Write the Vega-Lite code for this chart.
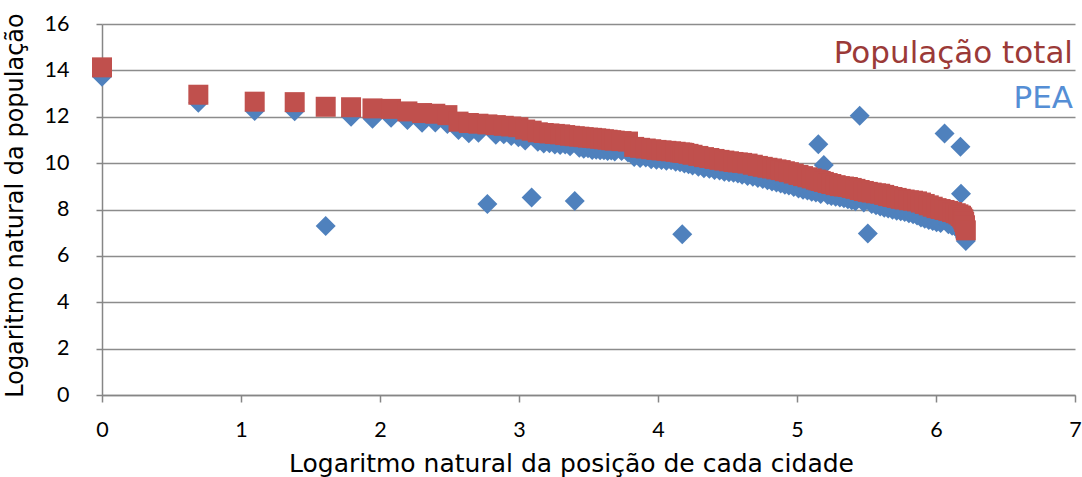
{
  "$schema": "https://vega.github.io/schema/vega-lite/v6.json",
  "width": 973,
  "height": 371,
  "autosize": {"type": "none"},
  "padding": {"left": 102, "top": 24, "right": 7, "bottom": 82},
  "background": "white",
  "config": {
    "view": {"stroke": null},
    "axis": {
      "domainColor": "#868686",
      "domainWidth": 1.5,
      "tickColor": "#868686",
      "tickWidth": 1.5,
      "gridColor": "#8c8c8c",
      "gridWidth": 1.3,
      "labelFont": "Lato",
      "labelFontSize": 21.5,
      "labelColor": "#000000",
      "titleFont": "DejaVu Sans",
      "titleFontSize": 24,
      "titleFontWeight": "normal",
      "titleColor": "#000000"
    }
  },
  "data": {
    "values": [
      {"ln_pos": 0, "ln_pop": 14.13, "ln_pea": 13.73},
      {"ln_pos": 0.6931, "ln_pop": 12.95, "ln_pea": 12.6},
      {"ln_pos": 1.0986, "ln_pop": 12.65, "ln_pea": 12.25},
      {"ln_pos": 1.3863, "ln_pop": 12.63, "ln_pea": 12.24},
      {"ln_pos": 1.6094, "ln_pop": 12.43, "ln_pea": 7.29},
      {"ln_pos": 1.7918, "ln_pop": 12.41, "ln_pea": 12.0},
      {"ln_pos": 1.9459, "ln_pop": 12.36, "ln_pea": 11.91},
      {"ln_pos": 2.0794, "ln_pop": 12.34, "ln_pea": 11.96},
      {"ln_pos": 2.1972, "ln_pop": 12.23, "ln_pea": 11.86},
      {"ln_pos": 2.3026, "ln_pop": 12.16, "ln_pea": 11.74},
      {"ln_pos": 2.3979, "ln_pop": 12.13, "ln_pea": 11.75},
      {"ln_pos": 2.4849, "ln_pop": 12.07, "ln_pea": 11.69},
      {"ln_pos": 2.5649, "ln_pop": 11.79, "ln_pea": 11.43},
      {"ln_pos": 2.6391, "ln_pop": 11.73, "ln_pea": 11.29},
      {"ln_pos": 2.7081, "ln_pop": 11.7, "ln_pea": 11.31},
      {"ln_pos": 2.7726, "ln_pop": 11.67, "ln_pea": 8.24},
      {"ln_pos": 2.8332, "ln_pop": 11.64, "ln_pea": 11.22},
      {"ln_pos": 2.8904, "ln_pop": 11.61, "ln_pea": 11.24},
      {"ln_pos": 2.9444, "ln_pop": 11.58, "ln_pea": 11.17},
      {"ln_pos": 2.9957, "ln_pop": 11.55, "ln_pea": 11.12},
      {"ln_pos": 3.0445, "ln_pop": 11.45, "ln_pea": 10.98},
      {"ln_pos": 3.091, "ln_pop": 11.4, "ln_pea": 8.52},
      {"ln_pos": 3.1355, "ln_pop": 11.33, "ln_pea": 10.92},
      {"ln_pos": 3.1781, "ln_pop": 11.3, "ln_pea": 10.85},
      {"ln_pos": 3.2189, "ln_pop": 11.28, "ln_pea": 10.86},
      {"ln_pos": 3.2581, "ln_pop": 11.26, "ln_pea": 10.8},
      {"ln_pos": 3.2958, "ln_pop": 11.24, "ln_pea": 10.78},
      {"ln_pos": 3.3322, "ln_pop": 11.21, "ln_pea": 10.8},
      {"ln_pos": 3.3673, "ln_pop": 11.18, "ln_pea": 10.73},
      {"ln_pos": 3.4012, "ln_pop": 11.16, "ln_pea": 8.37},
      {"ln_pos": 3.434, "ln_pop": 11.14, "ln_pea": 10.66},
      {"ln_pos": 3.4657, "ln_pop": 11.12, "ln_pea": 10.62},
      {"ln_pos": 3.4965, "ln_pop": 11.1, "ln_pea": 10.64},
      {"ln_pos": 3.5264, "ln_pop": 11.09, "ln_pea": 10.57},
      {"ln_pos": 3.5553, "ln_pop": 11.07, "ln_pea": 10.58},
      {"ln_pos": 3.5835, "ln_pop": 11.05, "ln_pea": 10.55},
      {"ln_pos": 3.6109, "ln_pop": 11.03, "ln_pea": 10.56},
      {"ln_pos": 3.6376, "ln_pop": 11.01, "ln_pea": 10.52},
      {"ln_pos": 3.6636, "ln_pop": 10.99, "ln_pea": 10.54},
      {"ln_pos": 3.6889, "ln_pop": 10.97, "ln_pea": 10.5},
      {"ln_pos": 3.7377, "ln_pop": 10.95, "ln_pea": 10.52},
      {"ln_pos": 3.7842, "ln_pop": 10.93, "ln_pea": 10.46},
      {"ln_pos": 3.8286, "ln_pop": 10.7, "ln_pea": 10.26},
      {"ln_pos": 3.8712, "ln_pop": 10.66, "ln_pea": 10.22},
      {"ln_pos": 3.912, "ln_pop": 10.63, "ln_pea": 10.24},
      {"ln_pos": 3.9512, "ln_pop": 10.6, "ln_pea": 10.17},
      {"ln_pos": 3.989, "ln_pop": 10.57, "ln_pea": 10.15},
      {"ln_pos": 4.0254, "ln_pop": 10.55, "ln_pea": 10.14},
      {"ln_pos": 4.0604, "ln_pop": 10.53, "ln_pea": 10.1},
      {"ln_pos": 4.0943, "ln_pop": 10.51, "ln_pea": 10.12},
      {"ln_pos": 4.1271, "ln_pop": 10.49, "ln_pea": 10.06},
      {"ln_pos": 4.1589, "ln_pop": 10.46, "ln_pea": 10.04},
      {"ln_pos": 4.1744, "ln_pop": 10.45, "ln_pea": 6.93},
      {"ln_pos": 4.1897, "ln_pop": 10.44, "ln_pea": 9.98},
      {"ln_pos": 4.2195, "ln_pop": 10.4, "ln_pea": 9.95},
      {"ln_pos": 4.2485, "ln_pop": 10.36, "ln_pea": 9.9},
      {"ln_pos": 4.2905, "ln_pop": 10.31, "ln_pea": 9.84},
      {"ln_pos": 4.3307, "ln_pop": 10.26, "ln_pea": 9.78},
      {"ln_pos": 4.3694, "ln_pop": 10.22, "ln_pea": 9.76},
      {"ln_pos": 4.4067, "ln_pop": 10.18, "ln_pea": 9.7},
      {"ln_pos": 4.4427, "ln_pop": 10.14, "ln_pea": 9.68},
      {"ln_pos": 4.4773, "ln_pop": 10.11, "ln_pea": 9.63},
      {"ln_pos": 4.5109, "ln_pop": 10.08, "ln_pea": 9.61},
      {"ln_pos": 4.5433, "ln_pop": 10.05, "ln_pea": 9.58},
      {"ln_pos": 4.5747, "ln_pop": 10.03, "ln_pea": 9.55},
      {"ln_pos": 4.6052, "ln_pop": 10.01, "ln_pea": 9.5},
      {"ln_pos": 4.6444, "ln_pop": 9.98, "ln_pea": 9.44},
      {"ln_pos": 4.6821, "ln_pop": 9.93, "ln_pea": 9.41},
      {"ln_pos": 4.7185, "ln_pop": 9.88, "ln_pea": 9.36},
      {"ln_pos": 4.7536, "ln_pop": 9.84, "ln_pea": 9.31},
      {"ln_pos": 4.7875, "ln_pop": 9.8, "ln_pea": 9.26},
      {"ln_pos": 4.8203, "ln_pop": 9.77, "ln_pea": 9.21},
      {"ln_pos": 4.852, "ln_pop": 9.73, "ln_pea": 9.16},
      {"ln_pos": 4.8828, "ln_pop": 9.7, "ln_pea": 9.12},
      {"ln_pos": 4.9127, "ln_pop": 9.65, "ln_pea": 9.07},
      {"ln_pos": 4.9416, "ln_pop": 9.61, "ln_pea": 9.03},
      {"ln_pos": 4.9767, "ln_pop": 9.55, "ln_pea": 8.97},
      {"ln_pos": 5.0106, "ln_pop": 9.49, "ln_pea": 8.91},
      {"ln_pos": 5.0434, "ln_pop": 9.44, "ln_pea": 8.85},
      {"ln_pos": 5.0752, "ln_pop": 9.39, "ln_pea": 8.82},
      {"ln_pos": 5.1059, "ln_pop": 9.34, "ln_pea": 8.77},
      {"ln_pos": 5.1358, "ln_pop": 9.29, "ln_pea": 8.73},
      {"ln_pos": 5.1533, "ln_pop": 9.26, "ln_pea": 10.81},
      {"ln_pos": 5.1705, "ln_pop": 9.23, "ln_pea": 8.67},
      {"ln_pos": 5.193, "ln_pop": 9.19, "ln_pea": 9.92},
      {"ln_pos": 5.2204, "ln_pop": 9.14, "ln_pea": 8.62},
      {"ln_pos": 5.247, "ln_pop": 9.1, "ln_pea": 8.58},
      {"ln_pos": 5.2781, "ln_pop": 9.05, "ln_pea": 8.55},
      {"ln_pos": 5.3083, "ln_pop": 9.01, "ln_pea": 8.52},
      {"ln_pos": 5.3375, "ln_pop": 8.99, "ln_pea": 8.48},
      {"ln_pos": 5.366, "ln_pop": 8.97, "ln_pea": 8.44},
      {"ln_pos": 5.3936, "ln_pop": 8.93, "ln_pea": 8.4},
      {"ln_pos": 5.4205, "ln_pop": 8.89, "ln_pea": 8.36},
      {"ln_pos": 5.451, "ln_pop": 8.84, "ln_pea": 12.04},
      {"ln_pos": 5.4806, "ln_pop": 8.8, "ln_pea": 8.3},
      {"ln_pos": 5.5094, "ln_pop": 8.76, "ln_pea": 6.97},
      {"ln_pos": 5.5373, "ln_pop": 8.73, "ln_pea": 8.24},
      {"ln_pos": 5.5683, "ln_pop": 8.7, "ln_pea": 8.18},
      {"ln_pos": 5.5984, "ln_pop": 8.68, "ln_pea": 8.13},
      {"ln_pos": 5.6276, "ln_pop": 8.63, "ln_pea": 8.08},
      {"ln_pos": 5.656, "ln_pop": 8.58, "ln_pea": 8.04},
      {"ln_pos": 5.687, "ln_pop": 8.54, "ln_pea": 7.99},
      {"ln_pos": 5.717, "ln_pop": 8.5, "ln_pea": 7.95},
      {"ln_pos": 5.7462, "ln_pop": 8.46, "ln_pea": 7.92},
      {"ln_pos": 5.7746, "ln_pop": 8.43, "ln_pea": 7.89},
      {"ln_pos": 5.8051, "ln_pop": 8.4, "ln_pea": 7.84},
      {"ln_pos": 5.8348, "ln_pop": 8.38, "ln_pea": 7.8},
      {"ln_pos": 5.8636, "ln_pop": 8.35, "ln_pea": 7.74},
      {"ln_pos": 5.8916, "ln_pop": 8.3, "ln_pea": 7.66},
      {"ln_pos": 5.9189, "ln_pop": 8.24, "ln_pea": 7.6},
      {"ln_pos": 5.948, "ln_pop": 8.18, "ln_pea": 7.55},
      {"ln_pos": 5.9764, "ln_pop": 8.12, "ln_pea": 7.5},
      {"ln_pos": 6.0039, "ln_pop": 8.06, "ln_pea": 7.45},
      {"ln_pos": 6.0331, "ln_pop": 8.02, "ln_pea": 7.42},
      {"ln_pos": 6.0615, "ln_pop": 7.98, "ln_pea": 11.28},
      {"ln_pos": 6.089, "ln_pop": 7.94, "ln_pea": 7.36},
      {"ln_pos": 6.1159, "ln_pop": 7.89, "ln_pea": 7.3},
      {"ln_pos": 6.142, "ln_pop": 7.84, "ln_pea": 7.24},
      {"ln_pos": 6.1612, "ln_pop": 7.79, "ln_pea": 7.19},
      {"ln_pos": 6.1759, "ln_pop": 7.74, "ln_pea": 10.71},
      {"ln_pos": 6.18, "ln_pop": 7.72, "ln_pea": 8.68},
      {"ln_pos": 6.1883, "ln_pop": 7.66, "ln_pea": 7.08},
      {"ln_pos": 6.1964, "ln_pop": 7.58, "ln_pea": 7.0},
      {"ln_pos": 6.2025, "ln_pop": 7.47, "ln_pea": 6.9},
      {"ln_pos": 6.2086, "ln_pop": 7.32, "ln_pea": 6.78},
      {"ln_pos": 6.2146, "ln_pop": 7.1, "ln_pea": 6.64}
    ]
  },
  "layer": [
    {
      "mark": {"type": "point", "shape": "diamond", "filled": true, "size": 400, "color": "#4F81BD", "opacity": 1},
      "encoding": {
        "x": {"field": "ln_pos", "type": "quantitative", "scale": {"domain": [0, 7], "nice": false},
          "axis": {"title": "Logaritmo natural da posição de cada cidade", "values": [0,1,2,3,4,5,6,7], "format": "d", "grid": false, "tickSize": 7, "labelPadding": 17, "titlePadding": 11, "titleFontSize": 25, "titleX": 469, "labelFlush": false}},
        "y": {"field": "ln_pea", "type": "quantitative", "scale": {"domain": [0, 16], "nice": false},
          "axis": {"title": "Logaritmo natural da população", "values": [0,2,4,6,8,10,12,14,16], "format": "d", "grid": true, "tickSize": 6, "labelPadding": 27, "titlePadding": 17, "titleY": 181}}
      }
    },
    {
      "mark": {"type": "point", "shape": "square", "filled": true, "size": 400, "color": "#C0504D", "opacity": 1},
      "encoding": {
        "x": {"field": "ln_pos", "type": "quantitative"},
        "y": {"field": "ln_pop", "type": "quantitative"}
      }
    },
    {
      "data": {"values": [{"serie": "População total"}]},
      "mark": {"type": "text", "align": "right", "baseline": "alphabetic", "font": "DejaVu Sans", "fontSize": 31, "color": "#9B3A38", "dx": -2},
      "encoding": {
        "text": {"field": "serie"},
        "x": {"datum": 7, "type": "quantitative"},
        "y": {"datum": 14.33, "type": "quantitative"}
      }
    },
    {
      "data": {"values": [{"serie": "PEA"}]},
      "mark": {"type": "text", "align": "right", "baseline": "alphabetic", "font": "DejaVu Sans", "fontSize": 31, "color": "#558ED5", "dx": -2},
      "encoding": {
        "text": {"field": "serie"},
        "x": {"datum": 7, "type": "quantitative"},
        "y": {"datum": 12.38, "type": "quantitative"}
      }
    }
  ]
}
